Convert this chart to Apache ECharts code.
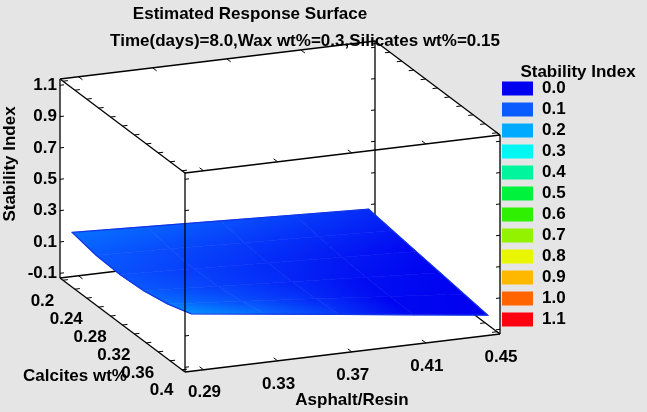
<!DOCTYPE html>
<html>
<head>
<meta charset="utf-8">
<title>Estimated Response Surface</title>
<script src="https://cdn.jsdelivr.net/npm/echarts@6/dist/echarts.min.js"></script>
<style>
    html, body { margin: 0; padding: 0; background: #e5e5e5; }
    #main { width: 647px; height: 412px; }
</style>
</head>
<body>
<div id="main"></div>
<script>
    // surface grid
    var asphalt = [0.285, 0.325, 0.365, 0.405, 0.445];
    var calcites = [0.2, 0.24, 0.28, 0.32, 0.36, 0.4];
    // stability index: one row per asphalt value, one column per calcites value
    var stability = [
        [0.168, 0.137, 0.128, 0.138, 0.169, 0.220],
        [0.148, 0.121, 0.107, 0.110, 0.128, 0.161],
        [0.128, 0.103, 0.087, 0.082, 0.087, 0.102],
        [0.108, 0.085, 0.067, 0.054, 0.045, 0.042],
        [0.088, 0.067, 0.046, 0.025, 0.004, -0.017]
    ];

    // axis ticks
    var asphaltTicks = [0.29, 0.33, 0.37, 0.41, 0.45];
    var calcitesTicks = [0.2, 0.24, 0.28, 0.32, 0.36, 0.4];
    var calcitesMinor = [0.2, 0.22, 0.24, 0.26, 0.28, 0.3, 0.32, 0.34, 0.36, 0.38, 0.4];
    var stabilityTicks = [-0.1, 0.1, 0.3, 0.5, 0.7, 0.9, 1.1];

    // legend
    var legendLevels = ['0.0', '0.1', '0.2', '0.3', '0.4', '0.5', '0.6', '0.7', '0.8', '0.9', '1.0', '1.1'];
    var legendColors = ['#0000f0', '#0a5cff', '#00aaff', '#00f7f2', '#00f59c', '#00f23c',
                        '#2ef000', '#92f200', '#eaf500', '#ffb800', '#ff6400', '#ff0010'];

    // axis ranges of the box
    var aRange = [0.28, 0.45];
    var cRange = [0.195, 0.405];
    var sRange = [-0.13, 1.14];

    // oblique view of the box (pixels)
    var origin = [60, 278];     // back-left-bottom corner
    var aVec = [315, -38];      // asphalt/resin direction
    var cVec = [125, 94];       // calcites direction
    var sLen = 199;             // stability height

    var FONT = '"Liberation Sans", Arial, sans-serif';
    var TXT = 'bold 17px ' + FONT;

    function project(a, c, s) {
        var fa = (a - aRange[0]) / (aRange[1] - aRange[0]);
        var fc = (c - cRange[0]) / (cRange[1] - cRange[0]);
        var fs = (s - sRange[0]) / (sRange[1] - sRange[0]);
        return [origin[0] + fa * aVec[0] + fc * cVec[0],
                origin[1] + fa * aVec[1] + fc * cVec[1] - fs * sLen];
    }
    function corner(k) {
        return project(aRange[k[0]], cRange[k[1]], sRange[k[2]]);
    }
    function colorFor(z) {
        var t = (z - 0.04) / 0.1 / (legendColors.length - 1);
        t = Math.max(0, Math.min(1, t));
        return echarts.color.lerp(t, legendColors);
    }

    // box edges: corners as [asphalt, calcites, stability] index (0 = min, 1 = max)
    var backEdges = [
        [[0, 0, 0], [1, 0, 0]], [[1, 0, 0], [1, 0, 1]], [[0, 0, 0], [0, 1, 0]],
        [[1, 0, 0], [1, 1, 0]], [[0, 0, 0], [0, 0, 1]]
    ];
    var frontEdges = [
        [[0, 1, 0], [1, 1, 0]], [[0, 1, 0], [0, 1, 1]], [[1, 1, 0], [1, 1, 1]],
        [[0, 0, 1], [1, 0, 1]], [[0, 1, 1], [1, 1, 1]], [[0, 0, 1], [0, 1, 1]],
        [[1, 0, 1], [1, 1, 1]]
    ];

    // tick marks, pointing into the box faces
    function tickSeg(p3, dir, len) {
        var p = project(p3[0], p3[1], p3[2]);
        var q = project(p3[0] + dir[0], p3[1] + dir[1], p3[2] + dir[2]);
        var dx = q[0] - p[0], dy = q[1] - p[1], d = Math.sqrt(dx * dx + dy * dy);
        return [p, [p[0] + dx / d * len, p[1] + dy / d * len]];
    }
    var tickSegs = [];
    [0, 1].forEach(function (ia) {
        [0, 1].forEach(function (is) {
            calcitesMinor.forEach(function (c) {
                tickSegs.push(tickSeg([aRange[ia], c, sRange[is]], [ia ? -0.01 : 0.01, 0, 0], 5));
            });
        });
        [0, 1].forEach(function (ic) {
            stabilityTicks.forEach(function (s) {
                tickSegs.push(tickSeg([aRange[ia], cRange[ic], s], [ia ? -0.01 : 0.01, 0, 0], 4));
            });
        });
    });
    [0, 1].forEach(function (ic) {
        [0, 1].forEach(function (is) {
            asphaltTicks.forEach(function (a) {
                tickSegs.push(tickSeg([a, cRange[ic], sRange[is]], [0, ic ? -0.01 : 0.01, 0], 5));
            });
        });
    });

    // tick labels
    var labels = [];
    stabilityTicks.forEach(function (s) {
        var p = project(aRange[0], cRange[0], s);
        labels.push({x: p[0] - 3, y: p[1], text: s.toFixed(1), align: 'right'});
    });
    calcitesTicks.forEach(function (c) {
        var p = project(aRange[0], c, sRange[0]);
        labels.push({x: p[0] - 20.5, y: p[1] + 21, text: String(c), align: 'center'});
    });
    asphaltTicks.forEach(function (a) {
        var p = project(a, cRange[1], sRange[0]);
        labels.push({x: p[0] + 1, y: p[1] + 23, text: String(a), align: 'center'});
    });

    var cells = [];
    for (var i = 0; i < asphalt.length - 1; i++) {
        for (var j = 0; j < calcites.length - 1; j++) {
            cells.push([i, j]);
        }
    }

    // shade one cell: fit a plane z = a + b*x + c*y to its corners on screen
    // and run a gradient along that plane's slope
    function cellFill(pts) {
        var n = pts.length, mx = 0, my = 0, mz = 0;
        pts.forEach(function (p) { mx += p.p[0] / n; my += p.p[1] / n; mz += p.z / n; });
        var sxx = 0, sxy = 0, syy = 0, sxz = 0, syz = 0;
        pts.forEach(function (p) {
            var dx = p.p[0] - mx, dy = p.p[1] - my, dz = p.z - mz;
            sxx += dx * dx; sxy += dx * dy; syy += dy * dy; sxz += dx * dz; syz += dy * dz;
        });
        var det = sxx * syy - sxy * sxy;
        if (Math.abs(det) < 1e-9) { return colorFor(mz); }
        var b = (sxz * syy - syz * sxy) / det;
        var c = (syz * sxx - sxz * sxy) / det;
        if (Math.abs(b) + Math.abs(c) < 1e-9) { return colorFor(mz); }
        var slo = Infinity, shi = -Infinity;
        pts.forEach(function (p) {
            var s = b * p.p[0] + c * p.p[1];
            if (s < slo) { slo = s; }
            if (s > shi) { shi = s; }
        });
        // foot points along the slope direction through the cell centre
        var g2 = b * b + c * c, sm = b * mx + c * my;
        var p0 = [mx + b * (slo - sm) / g2, my + c * (slo - sm) / g2];
        var p1 = [mx + b * (shi - sm) / g2, my + c * (shi - sm) / g2];
        var z0 = mz + b * (p0[0] - mx) + c * (p0[1] - my);
        var z1 = mz + b * (p1[0] - mx) + c * (p1[1] - my);
        return new echarts.graphic.LinearGradient(p0[0], p0[1], p1[0], p1[1], [
            {offset: 0, color: colorFor(z0)},
            {offset: 1, color: colorFor(z1)}
        ], true);
    }

    function edgeItem(list) {
        return function (params, api) {
            var e = list[params.dataIndex];
            var p = api.coord(corner(e[0])), q = api.coord(corner(e[1]));
            return {type: 'line', shape: {x1: p[0], y1: p[1], x2: q[0], y2: q[1]},
                    style: {stroke: '#000', lineWidth: 1.3}};
        };
    }
    function indexData(list) {
        return list.map(function (d, k) { return [k, 0]; });
    }

    var myChart = echarts.init(document.getElementById('main'));

    var option = {
        backgroundColor: '#e5e5e5',
        animation: false,
        grid: {left: 0, right: 0, top: 0, bottom: 0},
        xAxis: {type: 'value', min: 0, max: 647, show: false},
        yAxis: {type: 'value', min: 0, max: 412, inverse: true, show: false},
        graphic: [
            {type: 'text', x: 250, y: 14, z: 100,
             style: {text: 'Estimated Response Surface', font: TXT, fill: '#000', align: 'center', verticalAlign: 'middle'}},
            {type: 'text', x: 305, y: 41, z: 100,
             style: {text: 'Time(days)=8.0,Wax wt%=0.3,Silicates wt%=0.15', font: TXT, fill: '#000', align: 'center', verticalAlign: 'middle'}},
            {type: 'text', x: 10, y: 164, rotation: Math.PI / 2, z: 100,
             style: {text: 'Stability Index', font: TXT, fill: '#000', align: 'center', verticalAlign: 'middle'}},
            {type: 'text', x: 75, y: 376, z: 100,
             style: {text: 'Calcites wt%', font: TXT, fill: '#000', align: 'center', verticalAlign: 'middle'}},
            {type: 'text', x: 352, y: 400, z: 100,
             style: {text: 'Asphalt/Resin', font: TXT, fill: '#000', align: 'center', verticalAlign: 'middle'}},
            {type: 'text', x: 578, y: 72, z: 100,
             style: {text: 'Stability Index', font: TXT, fill: '#000', align: 'center', verticalAlign: 'middle'}}
        ],
        visualMap: {
            type: 'piecewise',
            seriesIndex: 7,
            orient: 'vertical',
            inverse: true,
            align: 'left',
            selectedMode: false,
            left: 502,
            top: 80,
            padding: 0,
            itemWidth: 31,
            itemHeight: 14,
            itemGap: 4,
            textGap: 9,
            itemSymbol: 'rect',
            pieces: legendLevels.map(function (l, k) {
                return {value: Number(l), label: l, color: legendColors[k]};
            }),
            textStyle: {color: '#000', fontSize: 17, fontWeight: 'bold', fontFamily: FONT}
        },
        series: [
            {   // white box body
                type: 'custom', silent: true, data: [[0, 0]],
                renderItem: function (params, api) {
                    var pts = [[0, 0, 1], [1, 0, 1], [1, 1, 1], [1, 1, 0], [0, 1, 0], [0, 0, 0]].map(function (k) {
                        return api.coord(corner(k));
                    });
                    return {type: 'polygon', shape: {points: pts}, style: {fill: '#fff'}};
                }
            },
            {   // edges behind the surface
                type: 'custom', silent: true, data: indexData(backEdges),
                renderItem: edgeItem(backEdges)
            },
            {   // tick marks
                type: 'custom', silent: true, data: indexData(tickSegs),
                renderItem: function (params, api) {
                    var t = tickSegs[params.dataIndex];
                    var p = api.coord(t[0]), q = api.coord(t[1]);
                    return {type: 'line', shape: {x1: p[0], y1: p[1], x2: q[0], y2: q[1]},
                            style: {stroke: '#000', lineWidth: 1}};
                }
            },
            {   // response surface
                type: 'custom', silent: true, data: cells,
                renderItem: function (params, api) {
                    var i = api.value(0), j = api.value(1);
                    var pts = [[i, j], [i + 1, j], [i + 1, j + 1], [i, j + 1]].map(function (k) {
                        var z = stability[k[0]][k[1]];
                        return {z: z, p: api.coord(project(asphalt[k[0]], calcites[k[1]], z))};
                    });
                    var fill = cellFill(pts);
                    return {type: 'polygon', shape: {points: pts.map(function (p) { return p.p; })},
                            style: {fill: fill, stroke: fill, lineWidth: 0.6}};
                }
            },
            {   // surface outline
                type: 'custom', silent: true, data: [[0, 0]],
                renderItem: function (params, api) {
                    var idx = [], n = asphalt.length - 1, m = calcites.length - 1, k;
                    for (k = 0; k <= n; k++) { idx.push([k, 0]); }
                    for (k = 1; k <= m; k++) { idx.push([n, k]); }
                    for (k = n - 1; k >= 0; k--) { idx.push([k, m]); }
                    for (k = m - 1; k > 0; k--) { idx.push([0, k]); }
                    var pts = idx.map(function (q) {
                        return api.coord(project(asphalt[q[0]], calcites[q[1]], stability[q[0]][q[1]]));
                    });
                    return {type: 'polygon', shape: {points: pts},
                            style: {fill: 'none', stroke: '#1234e6', lineWidth: 1.2}};
                }
            },
            {   // front edges
                type: 'custom', silent: true, data: indexData(frontEdges),
                renderItem: edgeItem(frontEdges)
            },
            {   // tick labels
                type: 'custom', silent: true, data: indexData(labels),
                renderItem: function (params, api) {
                    var l = labels[params.dataIndex];
                    var p = api.coord([l.x, l.y]);
                    return {type: 'text', x: p[0], y: p[1],
                            style: {text: l.text, font: TXT, fill: '#000',
                                    align: l.align, verticalAlign: 'middle'}};
                }
            },
            {   // holder for the colour legend
                type: 'scatter', data: [], silent: true
            }
        ]
    };

    myChart.setOption(option);
</script>
</body>
</html>
